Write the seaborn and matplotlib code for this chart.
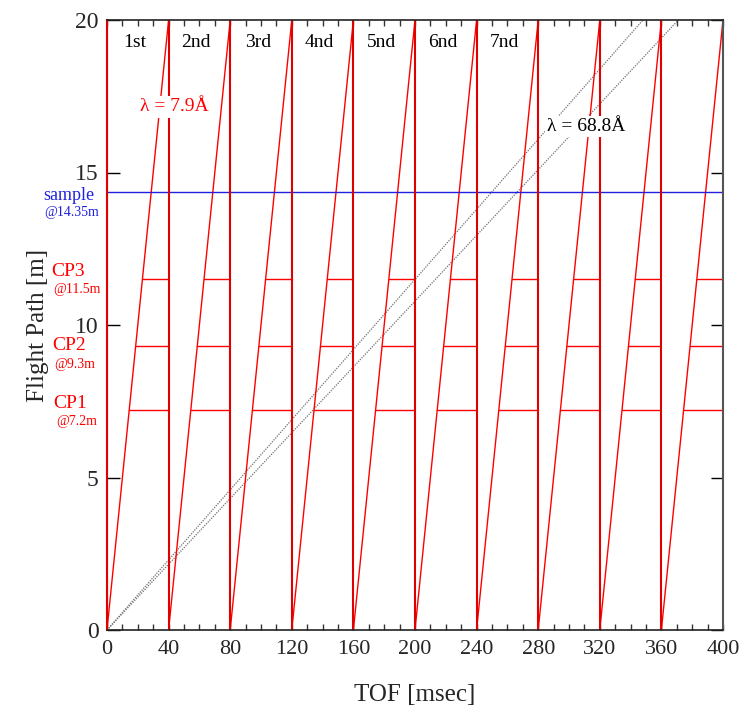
import numpy as np
import pandas as pd
import matplotlib
matplotlib.use("Agg")
import matplotlib.pyplot as plt
import seaborn as sns
from matplotlib.ticker import MultipleLocator

# ---- data ----
frame_starts = [0, 40, 80, 120, 160, 200, 240, 280, 320, 360]
frame_width = 40          # msec for lambda = 7.9 A to reach 20 m
path_top = 20
chopper_pos = [7.2, 9.3, 11.5]
chopper_names = ["CP1", "CP2", "CP3"]
chopper_notes = ["@7.2m", "@9.3m", "@11.5m"]
sample_pos = 14.35
long_lambda_end = [348, 371]   # TOF (msec) at 20 m for the slow lines
frame_labels = ["1st", "2nd", "3rd", "4nd", "5nd", "6nd", "7nd"]
x_ticks = [0, 40, 80, 120, 160, 200, 240, 280, 320, 360, 400]
y_ticks = [0, 5, 10, 15, 20]

# ---- tables ----
saw = pd.DataFrame(
    [(i, t0 + dx, y) for i, t0 in enumerate(frame_starts)
     for dx, y in [(0, 0), (frame_width, path_top)]],
    columns=["seg", "x", "y"])
vert = pd.DataFrame(
    [(i, t0, y) for i, t0 in enumerate(frame_starts) for y in (0, path_top)],
    columns=["seg", "x", "y"])
chop_rows = []
k = 0
for t0 in frame_starts:
    for L in chopper_pos:
        chop_rows.append((k, t0 + frame_width * L / path_top, L))
        chop_rows.append((k, t0 + frame_width, L))
        k += 1
chop = pd.DataFrame(chop_rows, columns=["seg", "x", "y"])
samp = pd.DataFrame({"seg": [0, 0], "x": [x_ticks[0], x_ticks[-1]],
                     "y": [sample_pos, sample_pos]})
slow = pd.DataFrame(
    [(i, x, y) for i, e in enumerate(long_lambda_end)
     for x, y in [(0, 0), (e, path_top)]],
    columns=["seg", "x", "y"])

# ---- style ----
sns.set_theme(style="ticks")
plt.rcParams["font.family"] = ["Liberation Serif", "DejaVu Serif"]

fig = plt.figure(figsize=(7.45, 7.05), dpi=100)
ax = fig.add_axes([107 / 745, 75 / 705, (723 - 107) / 745, (630 - 20) / 705])

kw = dict(x="x", y="y", units="seg", estimator=None, sort=False, ax=ax,
          legend=False)
sns.lineplot(data=slow, color="#707070", lw=0.9, linestyle=(0, (1, 1)), **kw)
sns.lineplot(data=chop, color="#ff0000", lw=1.0, **kw)
sns.lineplot(data=saw, color="#ff0000", lw=1.0, **kw)
sns.lineplot(data=samp, color="#2020e0", lw=1.0, **kw)
sns.lineplot(data=vert, color="#e00000", lw=1.5, **kw)

ax.set_xlim(x_ticks[0], x_ticks[-1])
ax.set_ylim(y_ticks[0], y_ticks[-1])
ax.set_xticks(x_ticks)
ax.set_yticks(y_ticks)
ax.xaxis.set_minor_locator(MultipleLocator(10))
ax.tick_params(axis="x", which="both", direction="in", top=True, bottom=True,
               length=4, width=1.0, color="#333333", labelsize=16, pad=7)
ax.tick_params(axis="y", which="major", direction="in", left=True, right=True,
               length=9, width=1.0, color="black", labelsize=17, pad=6)
ax.set_xlabel("TOF [msec]", fontsize=18, labelpad=18)
ax.set_ylabel("Flight Path [m]", fontsize=18, labelpad=19)

for s in ["top", "bottom"]:
    ax.spines[s].set_color("#222222")
    ax.spines[s].set_linewidth(1.2)
ax.spines["right"].set_color("#555555")
ax.spines["right"].set_linewidth(1.5)
ax.spines["left"].set_color("#e00000")
ax.spines["left"].set_linewidth(1.5)

# frame labels
for t0, lab in zip(frame_starts, frame_labels):
    ax.text(t0 + 18, 19.25, lab, fontsize=14, ha="center", va="center",
            color="black")

ax.text(44, 17.15, "λ = 7.9Å", fontsize=14, color="#ff0000", ha="center",
        va="center", zorder=10,
        bbox=dict(facecolor="white", edgecolor="none", pad=1.5))
ax.text(311, 16.5, "λ = 68.8Å", fontsize=14, color="black", ha="center",
        va="center", zorder=10,
        bbox=dict(facecolor="white", edgecolor="none", pad=1.5))

# left-side annotations
ax.text(-24.7, 14.26, "sample", fontsize=13, color="#2020e0", ha="center",
        va="center", clip_on=False)
ax.text(-22.7, 13.7, "@14.35m", fontsize=10, color="#2020e0", ha="center",
        va="center", clip_on=False)
name_pos = [(-24.0, 7.44), (-24.3, 9.34), (-25.3, 11.74)]
note_pos = [(-19.8, 6.82), (-20.8, 8.72), (-19.2, 11.18)]
for nm, nt, (nx, ny), (tx, ty) in zip(chopper_names, chopper_notes,
                                      name_pos, note_pos):
    ax.text(nx, ny, nm, fontsize=14, color="#ff0000", ha="center",
            va="center", clip_on=False)
    ax.text(tx, ty, nt, fontsize=10, color="#ff0000", ha="center",
            va="center", clip_on=False)

fig.savefig("out.png", dpi=100)
